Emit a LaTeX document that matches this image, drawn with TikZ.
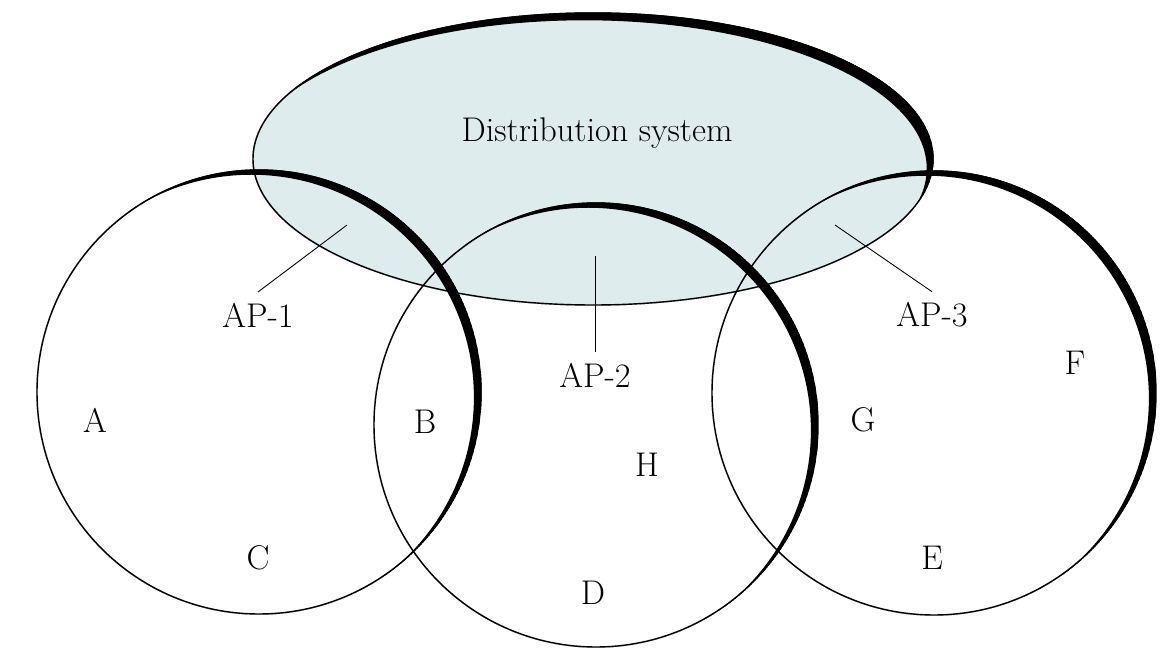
\documentclass[tikz,border=0pt]{standalone}
\usetikzlibrary{calc}
\definecolor{dsfill}{RGB}{222,236,238}
\tikzset{
  cell/.style={line width=0.8pt},
  lbl/.style={font=\fontsize{19.5}{22}\selectfont, inner sep=1pt},
  aplbl/.style={lbl, inner sep=6pt},
  lead/.style={line width=0.5pt},
}

\begin{document}
\begin{tikzpicture}
  \useasboundingbox (0,0) rectangle (23.3,12.96);
  % centres of the cells and of the distribution system
  \coordinate (c1) at ( 5.18, 5.12);
  \coordinate (c2) at (11.92, 4.46);
  \coordinate (c3) at (18.68, 5.10);
  \coordinate (ds) at (11.86, 9.78);

  \fill[dsfill] (ds) ellipse (6.80 and 2.92);
  % cells, heavy on the upper right side
  \foreach \c in {c1,c2,c3} {
    \draw[cell] (\c) circle (4.44);
    \begin{scope}
      \clip (\c) circle (4.454);
      \fill[even odd rule] (\c) circle (4.454) ($(\c)+(-0.156,-0.109)$) circle (4.454);
    \end{scope}
  }
  \draw[cell] (ds) ellipse (6.80 and 2.92);
  \begin{scope}
    \clip (ds) ellipse (6.814 and 2.934);
    \fill[even odd rule] (ds) ellipse (6.814 and 2.934) ($(ds)+(-0.17,-0.19)$) ellipse (6.844 and 2.964);
  \end{scope}

  \node[lbl]   (DS)  at (11.94, 10.30) {Distribution system};
  \node[aplbl] (AP1) at ( 5.16,  6.66) {AP-1};
  \node[aplbl] (AP2) at (11.90,  5.46) {AP-2};
  \node[aplbl] (AP3) at (18.64,  6.66) {AP-3};
  \node[lbl]   (A)   at ( 1.90,  4.56) {A};
  \node[lbl]   (B)   at ( 8.50,  4.52) {B};
  \node[lbl]   (C)   at ( 5.16,  1.80) {C};
  \node[lbl]   (D)   at (11.86,  1.10) {D};
  \node[lbl]   (H)   at (12.94,  3.66) {H};
  \node[lbl]   (G)   at (17.26,  4.56) {G};
  \node[lbl]   (F)   at (21.50,  5.70) {F};
  \node[lbl]   (E)   at (18.64,  1.80) {E};

  \coordinate (ap1) at ( 6.94, 8.46);
  \coordinate (ap2) at (11.90, 7.84);
  \coordinate (ap3) at (16.70, 8.46);
  \draw[lead] (AP1.north) -- (ap1);
  \draw[lead] (AP2.north) -- (ap2);
  \draw[lead] (AP3.north) -- (ap3);
\end{tikzpicture}
\end{document}
